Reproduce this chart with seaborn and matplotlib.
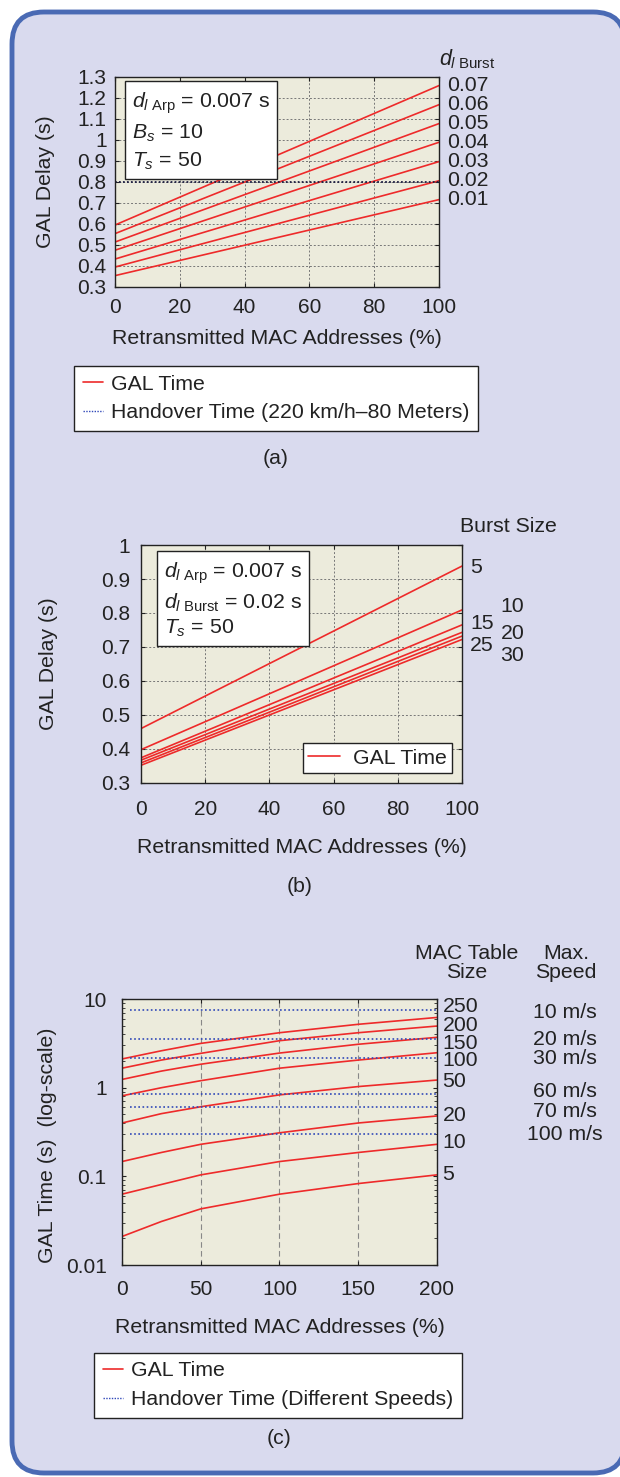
import numpy as np
import pandas as pd
import matplotlib.pyplot as plt
import seaborn as sns
from matplotlib.patches import FancyBboxPatch
from matplotlib.lines import Line2D

# ---- data ----
# (a) GAL delay vs retransmitted MAC addresses for several d_l Burst values
pct_a = [0, 100]
burst_delay = ['0.01', '0.02', '0.03', '0.04', '0.05', '0.06', '0.07']
gal_a_start = [0.354, 0.395, 0.433, 0.475, 0.514, 0.554, 0.595]
gal_a_end = [0.716, 0.806, 0.897, 0.989, 1.078, 1.168, 1.259]
handover_a = 0.8

# (b) GAL delay for several burst sizes
pct_b = [0, 100]
burst_size = ['5', '10', '15', '20', '25', '30']
gal_b_start = [0.460, 0.398, 0.374, 0.367, 0.359, 0.352]
gal_b_end = [0.938, 0.809, 0.765, 0.743, 0.732, 0.722]

# (c) GAL time (log) for several MAC table sizes, handover for several speeds
pct_c = [0, 25, 50, 100, 150, 200]
table_size = ['5', '10', '20', '50', '100', '150', '200', '250']
gal_c_5 = [0.021, 0.031, 0.043, 0.063, 0.083, 0.104]
gal_c_10 = [0.063, 0.081, 0.104, 0.147, 0.186, 0.23]
gal_c_20 = [0.147, 0.186, 0.23, 0.31, 0.40, 0.48]
gal_c_50 = [0.40, 0.51, 0.61, 0.83, 1.03, 1.22]
gal_c_100 = [0.81, 1.0, 1.2, 1.66, 2.05, 2.48]
gal_c_150 = [1.24, 1.54, 1.84, 2.46, 3.09, 3.70]
gal_c_200 = [1.66, 2.05, 2.44, 3.39, 4.17, 4.96]
gal_c_250 = [2.11, 2.61, 3.16, 4.17, 5.19, 6.2]
speeds = ['10 m/s', '20 m/s', '30 m/s', '60 m/s', '70 m/s', '100 m/s']
handover_c = [7.5, 3.52, 2.14, 0.84, 0.605, 0.30]

# label placement (layout only)
size_label_x_b = [102.5, 112, 102.5, 112, 102.5, 112]
size_label_y_b = [0.935, 0.818, 0.768, 0.741, 0.703, 0.676]
table_label_y_c = [0.106, 0.238, 0.49, 1.16, 2.05, 3.19, 5.09, 8.34]
speed_label_y_c = [7.14, 3.54, 2.16, 0.895, 0.546, 0.30]

RED = '#ee2a2a'
BLUE = '#3048b8'
TXT = '#222222'
FS = 15.3   # labels / annotations
TS = 15     # tick labels

sns.set_style('ticks')
plt.rcParams['font.family'] = ['Liberation Sans', 'DejaVu Sans']
plt.rcParams['mathtext.fontset'] = 'custom'
plt.rcParams['mathtext.rm'] = 'Liberation Sans'
plt.rcParams['mathtext.it'] = 'Liberation Sans:italic'
plt.rcParams['text.color'] = TXT
plt.rcParams['axes.labelcolor'] = TXT

fig = plt.figure(figsize=(6.2, 14.77), dpi=100)
fig.patch.set_facecolor('white')
fig.patches.append(FancyBboxPatch((0.12, 0.04), 6.13, 14.61,
                                  boxstyle='round,pad=0,rounding_size=0.32',
                                  transform=fig.dpi_scale_trans,
                                  fc='#d9daee', ec='#4a6ab4', lw=3.5, zorder=-5))


def style_axes(ax, xpad, ypad):
    ax.set_facecolor('#ecebdc')
    for s in ax.spines.values():
        s.set_color(TXT)
        s.set_linewidth(1.0)
    ax.tick_params(direction='in', length=3, width=0.8, top=True, right=True,
                   labelsize=TS, colors=TXT)
    ax.tick_params(axis='x', pad=xpad)
    ax.tick_params(axis='y', pad=ypad)
    ax.set_axisbelow(True)


legend_kw = dict(fontsize=FS, frameon=True, fancybox=False, edgecolor=TXT, framealpha=1,
                 handlelength=0.95, handletextpad=0.4, borderpad=0.4, labelspacing=0.45,
                 borderaxespad=0)

# ---------------- (a) ----------------
ax_a = fig.add_axes([0.1855, 0.8057, 0.5226, 0.1422])
style_axes(ax_a, 8, 6)
ax_a.grid(True, ls=(0, (2, 2)), color='#777777', lw=0.7)
for lab, y0, y1 in zip(burst_delay, gal_a_start, gal_a_end):
    sns.lineplot(x=pct_a, y=[y0, y1], color=RED, lw=1.2, ax=ax_a)
    ax_a.text(102.5, y1, lab, fontsize=FS, ha='left', va='center', clip_on=False)
ax_a.axhline(handover_a, color='#1c1c40', ls=(0, (1, 1.2)), lw=1.3)
ax_a.set_xlim(0, 100)
ax_a.set_ylim(0.3, 1.3)
ax_a.set_xticks([0, 20, 40, 60, 80, 100])
ax_a.set_yticks(np.round(np.arange(0.3, 1.31, 0.1), 1))
ax_a.set_yticklabels(['0.3', '0.4', '0.5', '0.6', '0.7', '0.8', '0.9', '1', '1.1', '1.2', '1.3'])
ax_a.set_xlabel('Retransmitted MAC Addresses (%)', fontsize=FS, va='top')
ax_a.set_ylabel('GAL Delay (s)', fontsize=FS)
ax_a.xaxis.set_label_coords(0.5, -0.2)
ax_a.yaxis.set_label_coords(-0.185, 0.5)
ax_a.text(100, 1.385, r'$d_{l\ \mathrm{Burst}}$', fontsize=15.5, ha='left', va='center', clip_on=False)
ax_a.text(0.052, 0.935,
          '$d_{l\\ \\mathrm{Arp}}$ = 0.007 s\n$B_s$ = 10\n$T_s$ = 50',
          transform=ax_a.transAxes, fontsize=15.3, ha='left', va='top', linespacing=1.42,
          bbox=dict(boxstyle='square,pad=0.33', fc='white', ec=TXT, lw=1.0))
h_gal = Line2D([], [], color=RED, lw=1.2)
h_ho_a = Line2D([], [], color=BLUE, ls=(0, (1, 1)), lw=1.0)
fig.legend([h_gal, h_ho_a], ['GAL Time', 'Handover Time (220 km/h\u201380 Meters)'],
           loc='upper left', bbox_to_anchor=(74 / 620, 1 - 366 / 1477), **legend_kw)
fig.text(276 / 620, 1 - 458 / 1477, '(a)', fontsize=FS, ha='center', va='center')

# ---------------- (b) ----------------
ax_b = fig.add_axes([0.2274, 0.4699, 0.5177, 0.1611])
style_axes(ax_b, 12, 8)
ax_b.grid(True, ls=(0, (2, 2)), color='#777777', lw=0.7)
for y0, y1 in zip(gal_b_start, gal_b_end):
    sns.lineplot(x=pct_b, y=[y0, y1], color=RED, lw=1.2, ax=ax_b)
for lab, lx, ly in zip(burst_size, size_label_x_b, size_label_y_b):
    ax_b.text(lx, ly, lab, fontsize=FS, ha='left', va='center', clip_on=False)
ax_b.set_xlim(0, 100)
ax_b.set_ylim(0.3, 1.0)
ax_b.set_xticks([0, 20, 40, 60, 80, 100])
ax_b.set_yticks(np.round(np.arange(0.3, 1.01, 0.1), 1))
ax_b.set_yticklabels(['0.3', '0.4', '0.5', '0.6', '0.7', '0.8', '0.9', '1'])
ax_b.set_xlabel('Retransmitted MAC Addresses (%)', fontsize=FS, va='top')
ax_b.set_ylabel('GAL Delay (s)', fontsize=FS)
ax_b.xaxis.set_label_coords(0.5, -0.231)
ax_b.yaxis.set_label_coords(-0.26, 0.5)
ax_b.text(99.4, 1.053, 'Burst Size', fontsize=FS, ha='left', va='center', clip_on=False)
ax_b.text(0.072, 0.933,
          '$d_{l\\ \\mathrm{Arp}}$ = 0.007 s\n$d_{l\\ \\mathrm{Burst}}$ = 0.02 s\n$T_s$ = 50',
          transform=ax_b.transAxes, fontsize=15.3, ha='left', va='top', linespacing=1.28,
          bbox=dict(boxstyle='square,pad=0.33', fc='white', ec=TXT, lw=1.0))
ax_b.legend([Line2D([], [], color=RED, lw=1.2)], ['GAL Time'], loc='lower right',
            bbox_to_anchor=(0.969, 0.042), borderaxespad=0, fontsize=FS,
            frameon=True, fancybox=False, edgecolor=TXT, framealpha=1,
            handlelength=1.5, handletextpad=0.6, borderpad=0.25)
fig.text(300 / 620, 1 - 887 / 1477, '(b)', fontsize=FS, ha='center', va='center')

# ---------------- (c) ----------------
ax_c = fig.add_axes([0.1968, 0.1435, 0.508, 0.1801])
style_axes(ax_c, 11, 11)
ax_c.set_yscale('log')
ax_c.tick_params(which='minor', direction='in', length=2, width=0.6, right=True)
ax_c.grid(True, axis='x', ls=(0, (5, 3)), color='#888888', lw=0.8)
gal_c = [gal_c_5, gal_c_10, gal_c_20, gal_c_50, gal_c_100, gal_c_150, gal_c_200, gal_c_250]
df_c = pd.DataFrame([(s, x, y) for s, ys in zip(table_size, gal_c) for x, y in zip(pct_c, ys)],
                    columns=['size', 'pct', 'gal'])
sns.lineplot(data=df_c, x='pct', y='gal', units='size', estimator=None, color=RED,
             lw=1.2, ax=ax_c)
for v in handover_c:
    ax_c.axhline(v, xmin=0.025, color=BLUE, ls=(0, (1, 1.5)), lw=1.2)
for lab, ly in zip(table_size, table_label_y_c):
    ax_c.text(203.5, ly, lab, fontsize=FS, ha='left', va='center', clip_on=False)
for lab, ly in zip(speeds, speed_label_y_c):
    ax_c.text(281, ly, lab, fontsize=FS, ha='center', va='center', clip_on=False)
ax_c.text(219, 25.5, 'MAC Table\nSize', fontsize=FS, ha='center', va='center',
          linespacing=0.95, clip_on=False)
ax_c.text(282, 25.5, 'Max.\nSpeed', fontsize=FS, ha='center', va='center',
          linespacing=0.95, clip_on=False)
ax_c.set_xlim(0, 200)
ax_c.set_ylim(0.01, 10)
ax_c.set_xticks([0, 50, 100, 150, 200])
ax_c.set_yticks([0.01, 0.1, 1, 10])
ax_c.set_yticklabels(['0.01', '0.1', '1', '10'])
ax_c.set_xlabel('Retransmitted MAC Addresses (%)', fontsize=FS, va='top')
ax_c.set_ylabel('GAL Time (s)  (log-scale)', fontsize=FS)
ax_c.xaxis.set_label_coords(0.5, -0.2)
ax_c.yaxis.set_label_coords(-0.205, 0.45)
h_ho_c = Line2D([], [], color=BLUE, ls=(0, (1, 1)), lw=1.0)
fig.legend([h_gal, h_ho_c], ['GAL Time', 'Handover Time (Different Speeds)'],
           loc='upper left', bbox_to_anchor=(94 / 620, 1 - 1353 / 1477), **legend_kw)
fig.text(279 / 620, 1 - 1438 / 1477, '(c)', fontsize=FS, ha='center', va='center')

fig.savefig('out.png', dpi=100, facecolor='white')
